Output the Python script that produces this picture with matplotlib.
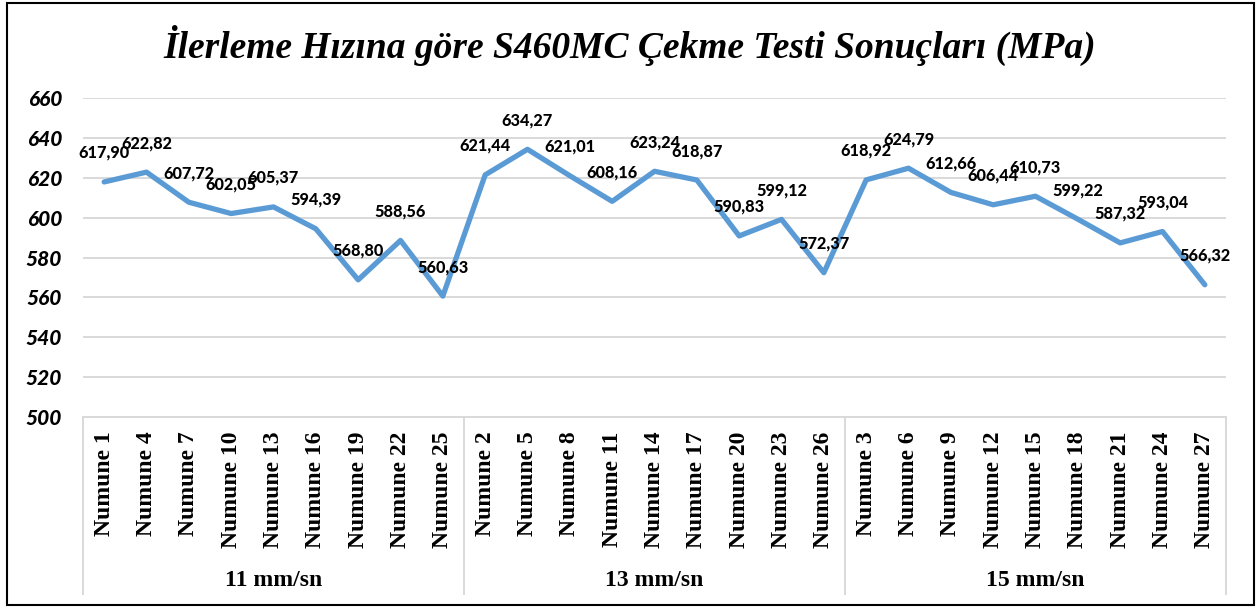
import matplotlib
matplotlib.use("Agg")
import matplotlib.pyplot as plt
from matplotlib.patches import Rectangle
from matplotlib.lines import Line2D
import matplotlib.transforms as mtransforms

# Sample labels in plotting order (grouped by feed rate)
samples = ["Numune 1", "Numune 4", "Numune 7", "Numune 10", "Numune 13", "Numune 16",
           "Numune 19", "Numune 22", "Numune 25",
           "Numune 2", "Numune 5", "Numune 8", "Numune 11", "Numune 14", "Numune 17",
           "Numune 20", "Numune 23", "Numune 26",
           "Numune 3", "Numune 6", "Numune 9", "Numune 12", "Numune 15", "Numune 18",
           "Numune 21", "Numune 24", "Numune 27"]
tensile = [617.90, 622.82, 607.72, 602.05, 605.37, 594.39, 568.80, 588.56, 560.63,
           621.44, 634.27, 621.01, 608.16, 623.24, 618.87, 590.83, 599.12, 572.37,
           618.92, 624.79, 612.66, 606.44, 610.73, 599.22, 587.32, 593.04, 566.32]
groups = ["11 mm/sn", "13 mm/sn", "15 mm/sn"]
group_size = 9
yticks = [500, 520, 540, 560, 580, 600, 620, 640, 660]

W, H = 1260, 608
fig = plt.figure(figsize=(W / 100, H / 100), dpi=100)
ax = fig.add_axes([83 / W, (H - 417) / H, 1143 / W, (417 - 98) / H])

x = list(range(len(tensile)))
ax.plot(x, tensile, color="#5B9BD5", lw=3.8, solid_joinstyle="round",
        solid_capstyle="round", zorder=3)

for xi, v in zip(x, tensile):
    ax.annotate(f"{v:.2f}".replace(".", ","), (xi, v), xytext=(0, 29),
                textcoords="offset pixels", ha="center", va="center",
                fontsize=11.7, fontweight=900, fontfamily="Lato", color="black",
                zorder=4)

ax.set_xlim(-0.5, len(tensile) - 0.5)
ax.set_ylim(500, 660)
ax.set_yticks(yticks)
ax.set_yticklabels([str(t) for t in yticks], fontfamily="Lato", fontweight=900,
                   fontstyle="italic", fontsize=15)
ax.tick_params(axis="y", length=0, pad=15)
ax.grid(axis="y", color="#D9D9D9", lw=1.4)
ax.set_axisbelow(True)
for s in ["left", "right", "top"]:
    ax.spines[s].set_visible(False)
ax.spines["bottom"].set_color("#D9D9D9")
ax.spines["bottom"].set_linewidth(1.4)

ax.set_xticks(x)
ax.set_xticklabels(samples, rotation=90, fontfamily="Liberation Serif",
                   fontweight="bold", fontsize=17)
ax.tick_params(axis="x", length=0, pad=10.5)

# Grouped category box below the axis
trans = mtransforms.blended_transform_factory(ax.transData, ax.transAxes)
box_depth = -(594 - 417) / (417 - 98)
for k in range(len(groups) + 1):
    xb = k * group_size - 0.5
    ax.add_line(Line2D([xb, xb], [0, box_depth], transform=trans, color="#D9D9D9",
                       lw=1.4, clip_on=False))
for k, g in enumerate(groups):
    xc = k * group_size + (group_size - 1) / 2
    ax.text(xc, -(581 - 417) / (417 - 98), g, transform=trans, ha="center", va="center",
            fontfamily="Liberation Serif", fontweight="bold", fontsize=17)

fig.text(0.5, 1 - 45 / H, "İlerleme Hızına göre S460MC Çekme Testi Sonuçları (MPa)",
         ha="center", va="center", fontfamily="Liberation Serif", fontweight="bold",
         fontstyle="italic", fontsize=27)

fig.add_artist(Rectangle((7 / W, 3 / H), (1254 - 7) / W, (605 - 3) / H,
                         transform=fig.transFigure, fill=False, edgecolor="black",
                         lw=1.5))

fig.savefig("out.png", dpi=100)
